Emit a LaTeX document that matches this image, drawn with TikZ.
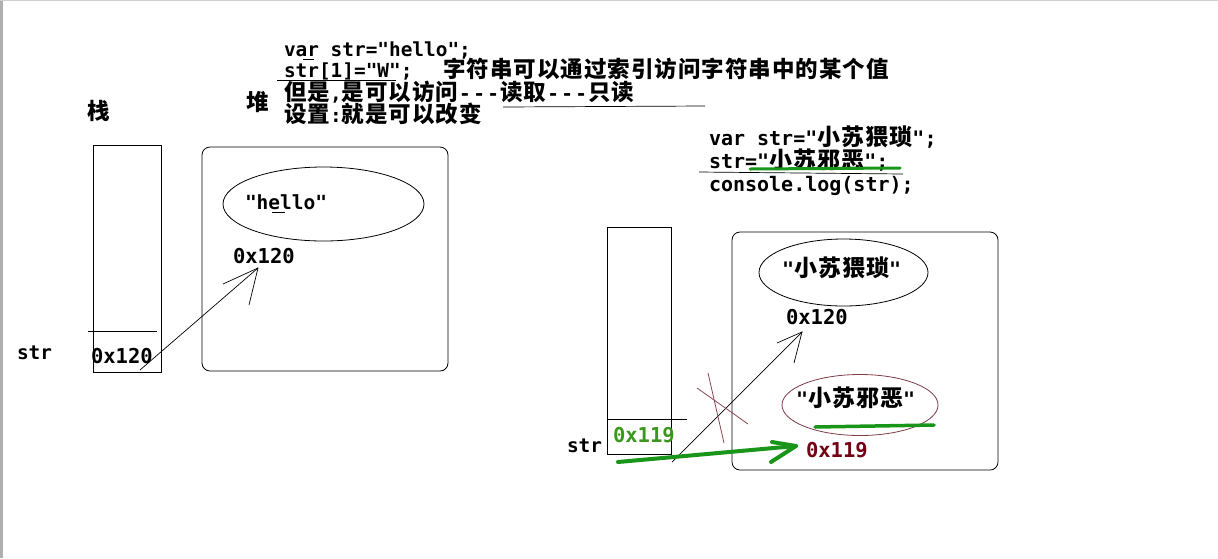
\documentclass[tikz,border=0pt]{standalone}
\usepackage{fontspec}
\usetikzlibrary{shapes.geometric}
\newfontfamily\monof{DejaVu Sans Mono}
\newfontfamily\cjkf{Noto Sans CJK SC}[LetterSpace=4.5]
\newcommand\zh[1]{{\cjkf\fontsize{22.5}{26}\selectfont\raisebox{0pt}[0.8em][0.05em]{#1}}}
\newcommand\zhb[1]{{\cjkf\fontsize{23}{26}\selectfont\raisebox{0pt}[0.8em][0.05em]{#1}}}
\newcommand\hyph{\kern1pt-\kern2.4pt-\kern2.4pt-\kern1.2pt}
\definecolor{mygreen}{RGB}{25,150,25}
\definecolor{txtgreen}{RGB}{60,150,30}
\definecolor{darkred}{RGB}{115,0,20}
\definecolor{ovalred}{RGB}{125,60,70}
\definecolor{xred}{RGB}{140,70,80}
\definecolor{edgegrey}{RGB}{175,175,175}
\begin{document}
\begin{tikzpicture}[x=1pt,y=-1pt,
  txt/.style={anchor=base west, inner sep=0pt, outer sep=0pt, font=\monof\bfseries\fontsize{19.4}{22}\selectfont},
  bigtxt/.style={txt, font=\monof\bfseries\fontsize{20.5}{24}\selectfont},
  rcode/.style={txt, font=\monof\bfseries\fontsize{20}{24}\selectfont},
  box/.style={draw, line width=0.8pt, inner sep=0pt, outer sep=0pt},
  heapbox/.style={box, rounded corners=8pt},
  oval/.style={draw, ellipse, line width=0.8pt, inner sep=0pt, outer sep=0pt},
  pen/.style={line width=0.7pt},
  greenpen/.style={draw=mygreen, line width=4pt, line cap=round, line join=round}]
\useasboundingbox (0,0) rectangle (1218,558);
\fill[white] (0,0) rectangle (1218,558);
\draw[edgegrey, line width=3pt] (1.5,0) -- (1.5,558);
\draw[edgegrey!60, line width=1pt] (0,0.5) -- (1218,0.5);

% ---------- top left notes ----------
\node[txt] (c1) at (284,56) {var str="hello";};
\draw[pen] (303,59) -- (314,59);
\node[txt] (c2) at (284,77) {str[1]="W";};
\node[txt] (c2z) at (443,77) {\zh{字符串可以通过索引访问字符串中的某个值}};
\draw[pen] (277,80) -- (396,80);
\node[txt] (c3) at (284,100) {\zh{但是},\zh{是可以访问}\hyph\zh{读取}\hyph\zh{只读}};
\draw[pen] (503,107) -- (705,106);
\node[txt] (c4) at (284,122) {\zh{设置}:\zh{就是可以改变}};
\node[txt] (dui) at (246,110) {\zh{堆}};
\node[txt] (zhan) at (87,119) {\zh{栈}};

% ---------- left diagram ----------
\node[box, minimum width=68pt, minimum height=227pt] (lstack) at (127,258.5) {};
\draw[pen] (88,331) -- (157,331);
\node[txt] (lstr) at (17,359) {str};
\node[bigtxt] (lval) at (91,363) {0x120};
\node[heapbox, minimum width=246pt, minimum height=224pt] (lheap) at (325,259) {};
\node[oval, minimum width=201pt, minimum height=74pt] (lell) at (323.5,204) {};
\node[txt, font=\monof\bfseries\fontsize{19.5}{22}\selectfont] (lhello) at (245,209) {"hello"};
\draw[pen] (272,212) -- (285,212);
\node[bigtxt] (laddr) at (233,263) {0x120};
\coordinate (la1) at (140,370);
\coordinate (la2) at (258,268);
\draw[pen] (la1) -- (la2);
\draw[pen] (223,284) -- (la2) -- (249,305);

% ---------- right code ----------
\node[rcode] (r1) at (709,145) {var str="\zhb{小苏猥琐}";};
\node[rcode] (r2) at (709,168.5) {str="\zhb{小苏邪恶}";};
\node[rcode] (r3) at (709,191) {console.log(str);};
\draw[pen] (699,172) -- (903,174);
\draw[draw=mygreen, line width=3pt, line cap=round] (750,169) -- (900,168);

% ---------- right diagram ----------
\node[box, minimum width=64pt, minimum height=227pt] (rstack) at (639,340.5) {};
\draw[pen] (607,419) -- (687,419);
\node[bigtxt, text=txtgreen] (rval) at (613,442) {0x119};
\node[txt] (rstr) at (567,452) {str};
\node[heapbox, minimum width=266pt, minimum height=238pt] (rheap) at (865,351) {};
\node[oval, minimum width=169pt, minimum height=67pt] (rell1) at (843.5,272.5) {};
\node[rcode] (rt1) at (782,276) {"\zhb{小苏猥琐}"};
\node[bigtxt] (raddr1) at (786,324) {0x120};
\node[oval, draw=ovalred, minimum width=156pt, minimum height=61pt] (rell2) at (860,405) {};
\node[rcode] (rt2) at (796,406) {"\zhb{小苏邪恶}"};
\draw[draw=mygreen, line width=3.5pt, line cap=round] (815,427) -- (934,425);
\node[bigtxt, text=darkred] (raddr2) at (806,457) {0x119};

% old pointer (crossed out)
\coordinate (ra1) at (672,462);
\coordinate (ra2) at (802,332);
\draw[pen] (ra1) -- (ra2);
\draw[pen] (777,343) -- (ra2) -- (794,363);
\draw[xred, line width=0.8pt] (708,373) -- (724,443);
\draw[xred, line width=0.8pt] (697,388) -- (748,424);

% new pointer (green)
\coordinate (ga1) at (618,462);
\coordinate (ga2) at (796,446);
\draw[greenpen] (ga1) -- (ga2);
\draw[greenpen] (772,442) -- (ga2) -- (771,462);
\end{tikzpicture}
\end{document}
